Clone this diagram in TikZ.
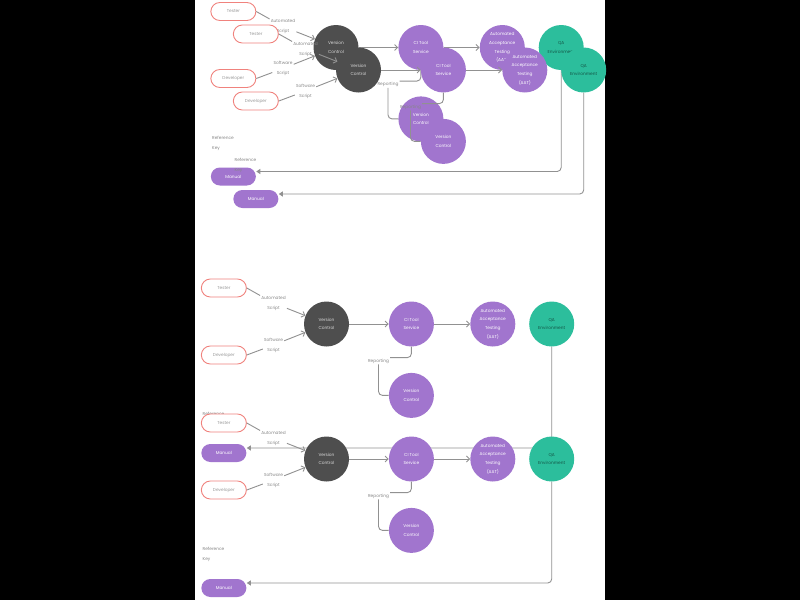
\documentclass[tikz,border=0pt]{standalone}
\usepackage{fontspec}
\setmainfont{Poppins}
\usepackage{xcolor}
\usepackage{tikz}
\usetikzlibrary{arrows.meta, positioning}
\definecolor{vcgray}{RGB}{78,78,78}
\definecolor{tool}{RGB}{161,117,206}
\definecolor{qagreen}{RGB}{44,190,156}
\definecolor{pillred}{RGB}{240,130,125}
\definecolor{linegray}{RGB}{145,145,145}
\definecolor{textgray}{RGB}{135,135,135}
\tikzstyle{actor} = [rectangle, rounded corners=9pt, minimum width=45pt, minimum height=18pt, inner sep=0pt, draw=pillred, line width=0.9pt, fill=white, text=textgray!85, font=\fontsize{4.3}{5}\selectfont]
\tikzstyle{manual} = [actor, draw=none, fill=tool, text=white]
\tikzstyle{stage} = [circle, minimum size=45pt, inner sep=1pt, fill=tool, text=white, align=center, font=\fontsize{4.3}{8.7}\selectfont]
\tikzstyle{repo} = [stage, fill=vcgray, text=white!85!black]
\tikzstyle{env} = [stage, fill=qagreen, text=qagreen!45!black]
\tikzstyle{note} = [inner sep=1pt, align=center, text=textgray, font=\fontsize{4.3}{10}\selectfont]
\tikzstyle{link} = [draw=linegray, line width=0.9pt]
\tikzstyle{arrow} = [link, -{Straight Barb[length=3pt, width=6pt]}]
\tikzstyle{loopback} = [link, rounded corners=4pt, -{Triangle[length=4pt, width=5pt]}]

\begin{document}
\begin{tikzpicture}[x=1pt, y=1pt]
    % canvas
    \fill[black] (0,0) rectangle (800,-600);
    \fill[white] (195,0) rectangle (605,-600);

    % --- Copy A (top, behind) ---
    \node (vcA) [repo] at (336,-47.5) {Version\\Control};
    \node (ciA) [stage, right=39.5pt of vcA] {CI Tool\\Service};
    \node (aatA) [stage, right=36pt of ciA] {Automated\\Acceptance\\Testing\\(AAT)};
    \node (qaA) [env, right=13.5pt of aatA] {QA\\Environment};
    \node (vcpA) [stage, below=26pt of ciA] {Version\\Control};
    \node (tsA) [actor, left=57pt of vcA, yshift=36pt] {Tester};
    \node (dvA) [actor, left=57pt of vcA, yshift=-31pt] {Developer};
    \node (mnA) [manual, left=57pt of vcA, yshift=-129pt] {Manual};
    \node (auA) [note, xshift=-53pt, yshift=21pt] at (vcA) {Automated\\Script};
    \node (swA) [note, xshift=-53pt, yshift=-21pt] at (vcA) {Software\\Script};
    \node (rpA) [note, xshift=52pt, yshift=-37pt] at (vcA) {Reporting};
    \node (keyA) [note, align=left, anchor=west, xshift=-125pt, yshift=-95.5pt] at (vcA) {Reference\\Key};
    \draw [link] (tsA.east) -- (auA);
    \draw [arrow] (auA) -- (vcA);
    \draw [link] (dvA.east) -- (swA);
    \draw [arrow] (swA) -- (vcA);
    \draw [arrow] (vcA) -- (ciA);
    \draw [arrow] (ciA) -- (aatA);
    \draw [link, rounded corners=4pt] (ciA) |- (rpA.north east);
    \draw [link, rounded corners=4pt] (rpA.south) |- (vcpA);
    \draw [loopback] (qaA) |- ([yshift=5pt]mnA.east);

    % --- Copy B (top, in front) ---
    \node (vcB) [repo] at (358.5,-70) {Version\\Control};
    \node (ciB) [stage, right=39.5pt of vcB] {CI Tool\\Service};
    \node (aatB) [stage, right=36pt of ciB] {Automated\\Acceptance\\Testing\\(AAT)};
    \node (qaB) [env, right=13.5pt of aatB] {QA\\Environment};
    \node (vcpB) [stage, below=26pt of ciB] {Version\\Control};
    \node (tsB) [actor, left=57pt of vcB, yshift=36pt] {Tester};
    \node (dvB) [actor, left=57pt of vcB, yshift=-31pt] {Developer};
    \node (mnB) [manual, left=57pt of vcB, yshift=-129pt] {Manual};
    \node (auB) [note, xshift=-53pt, yshift=21pt] at (vcB) {Automated\\Script};
    \node (swB) [note, xshift=-53pt, yshift=-21pt] at (vcB) {Software\\Script};
    \node (rpB) [note, xshift=52pt, yshift=-37pt] at (vcB) {Reporting};
    \node (keyB) [note, align=left, anchor=west, xshift=-125pt, yshift=-95.5pt] at (vcB) {Reference\\Key};
    \draw [link] (tsB.east) -- (auB);
    \draw [arrow] (auB) -- (vcB);
    \draw [link] (dvB.east) -- (swB);
    \draw [arrow] (swB) -- (vcB);
    \draw [arrow] (vcB) -- (ciB);
    \draw [arrow] (ciB) -- (aatB);
    \draw [link, rounded corners=4pt] (ciB) |- (rpB.north east);
    \draw [link, rounded corners=4pt] (rpB.south) |- (vcpB);
    \draw [loopback] (qaB) |- ([yshift=5pt]mnB.east);

    % --- Copy C (bottom, upper) ---
    \node (vcC) [repo] at (326.5,-324) {Version\\Control};
    \node (ciC) [stage, right=39.5pt of vcC] {CI Tool\\Service};
    \node (aatC) [stage, right=36pt of ciC] {Automated\\Acceptance\\Testing\\(AAT)};
    \node (qaC) [env, right=13.5pt of aatC] {QA\\Environment};
    \node (vcpC) [stage, below=26pt of ciC] {Version\\Control};
    \node (tsC) [actor, left=57pt of vcC, yshift=36pt] {Tester};
    \node (dvC) [actor, left=57pt of vcC, yshift=-31pt] {Developer};
    \node (mnC) [manual, left=57pt of vcC, yshift=-129pt] {Manual};
    \node (auC) [note, xshift=-53pt, yshift=21pt] at (vcC) {Automated\\Script};
    \node (swC) [note, xshift=-53pt, yshift=-21pt] at (vcC) {Software\\Script};
    \node (rpC) [note, xshift=52pt, yshift=-37pt] at (vcC) {Reporting};
    \node (keyC) [note, align=left, anchor=west, xshift=-125pt, yshift=-95.5pt] at (vcC) {Reference\\Key};
    \draw [link] (tsC.east) -- (auC);
    \draw [arrow] (auC) -- (vcC);
    \draw [link] (dvC.east) -- (swC);
    \draw [arrow] (swC) -- (vcC);
    \draw [arrow] (vcC) -- (ciC);
    \draw [arrow] (ciC) -- (aatC);
    \draw [link, rounded corners=4pt] (ciC) |- (rpC.north east);
    \draw [link, rounded corners=4pt] (rpC.south) |- (vcpC);
    \draw [loopback] (qaC) |- ([yshift=5pt]mnC.east);

    % --- Copy D (bottom, lower) ---
    \node (vcD) [repo] at (326.5,-459) {Version\\Control};
    \node (ciD) [stage, right=39.5pt of vcD] {CI Tool\\Service};
    \node (aatD) [stage, right=36pt of ciD] {Automated\\Acceptance\\Testing\\(AAT)};
    \node (qaD) [env, right=13.5pt of aatD] {QA\\Environment};
    \node (vcpD) [stage, below=26pt of ciD] {Version\\Control};
    \node (tsD) [actor, left=57pt of vcD, yshift=36pt] {Tester};
    \node (dvD) [actor, left=57pt of vcD, yshift=-31pt] {Developer};
    \node (mnD) [manual, left=57pt of vcD, yshift=-129pt] {Manual};
    \node (auD) [note, xshift=-53pt, yshift=21pt] at (vcD) {Automated\\Script};
    \node (swD) [note, xshift=-53pt, yshift=-21pt] at (vcD) {Software\\Script};
    \node (rpD) [note, xshift=52pt, yshift=-37pt] at (vcD) {Reporting};
    \node (keyD) [note, align=left, anchor=west, xshift=-125pt, yshift=-95.5pt] at (vcD) {Reference\\Key};
    \draw [link] (tsD.east) -- (auD);
    \draw [arrow] (auD) -- (vcD);
    \draw [link] (dvD.east) -- (swD);
    \draw [arrow] (swD) -- (vcD);
    \draw [arrow] (vcD) -- (ciD);
    \draw [arrow] (ciD) -- (aatD);
    \draw [link, rounded corners=4pt] (ciD) |- (rpD.north east);
    \draw [link, rounded corners=4pt] (rpD.south) |- (vcpD);
    \draw [loopback] (qaD) |- ([yshift=5pt]mnD.east);

\end{tikzpicture}
\end{document}
